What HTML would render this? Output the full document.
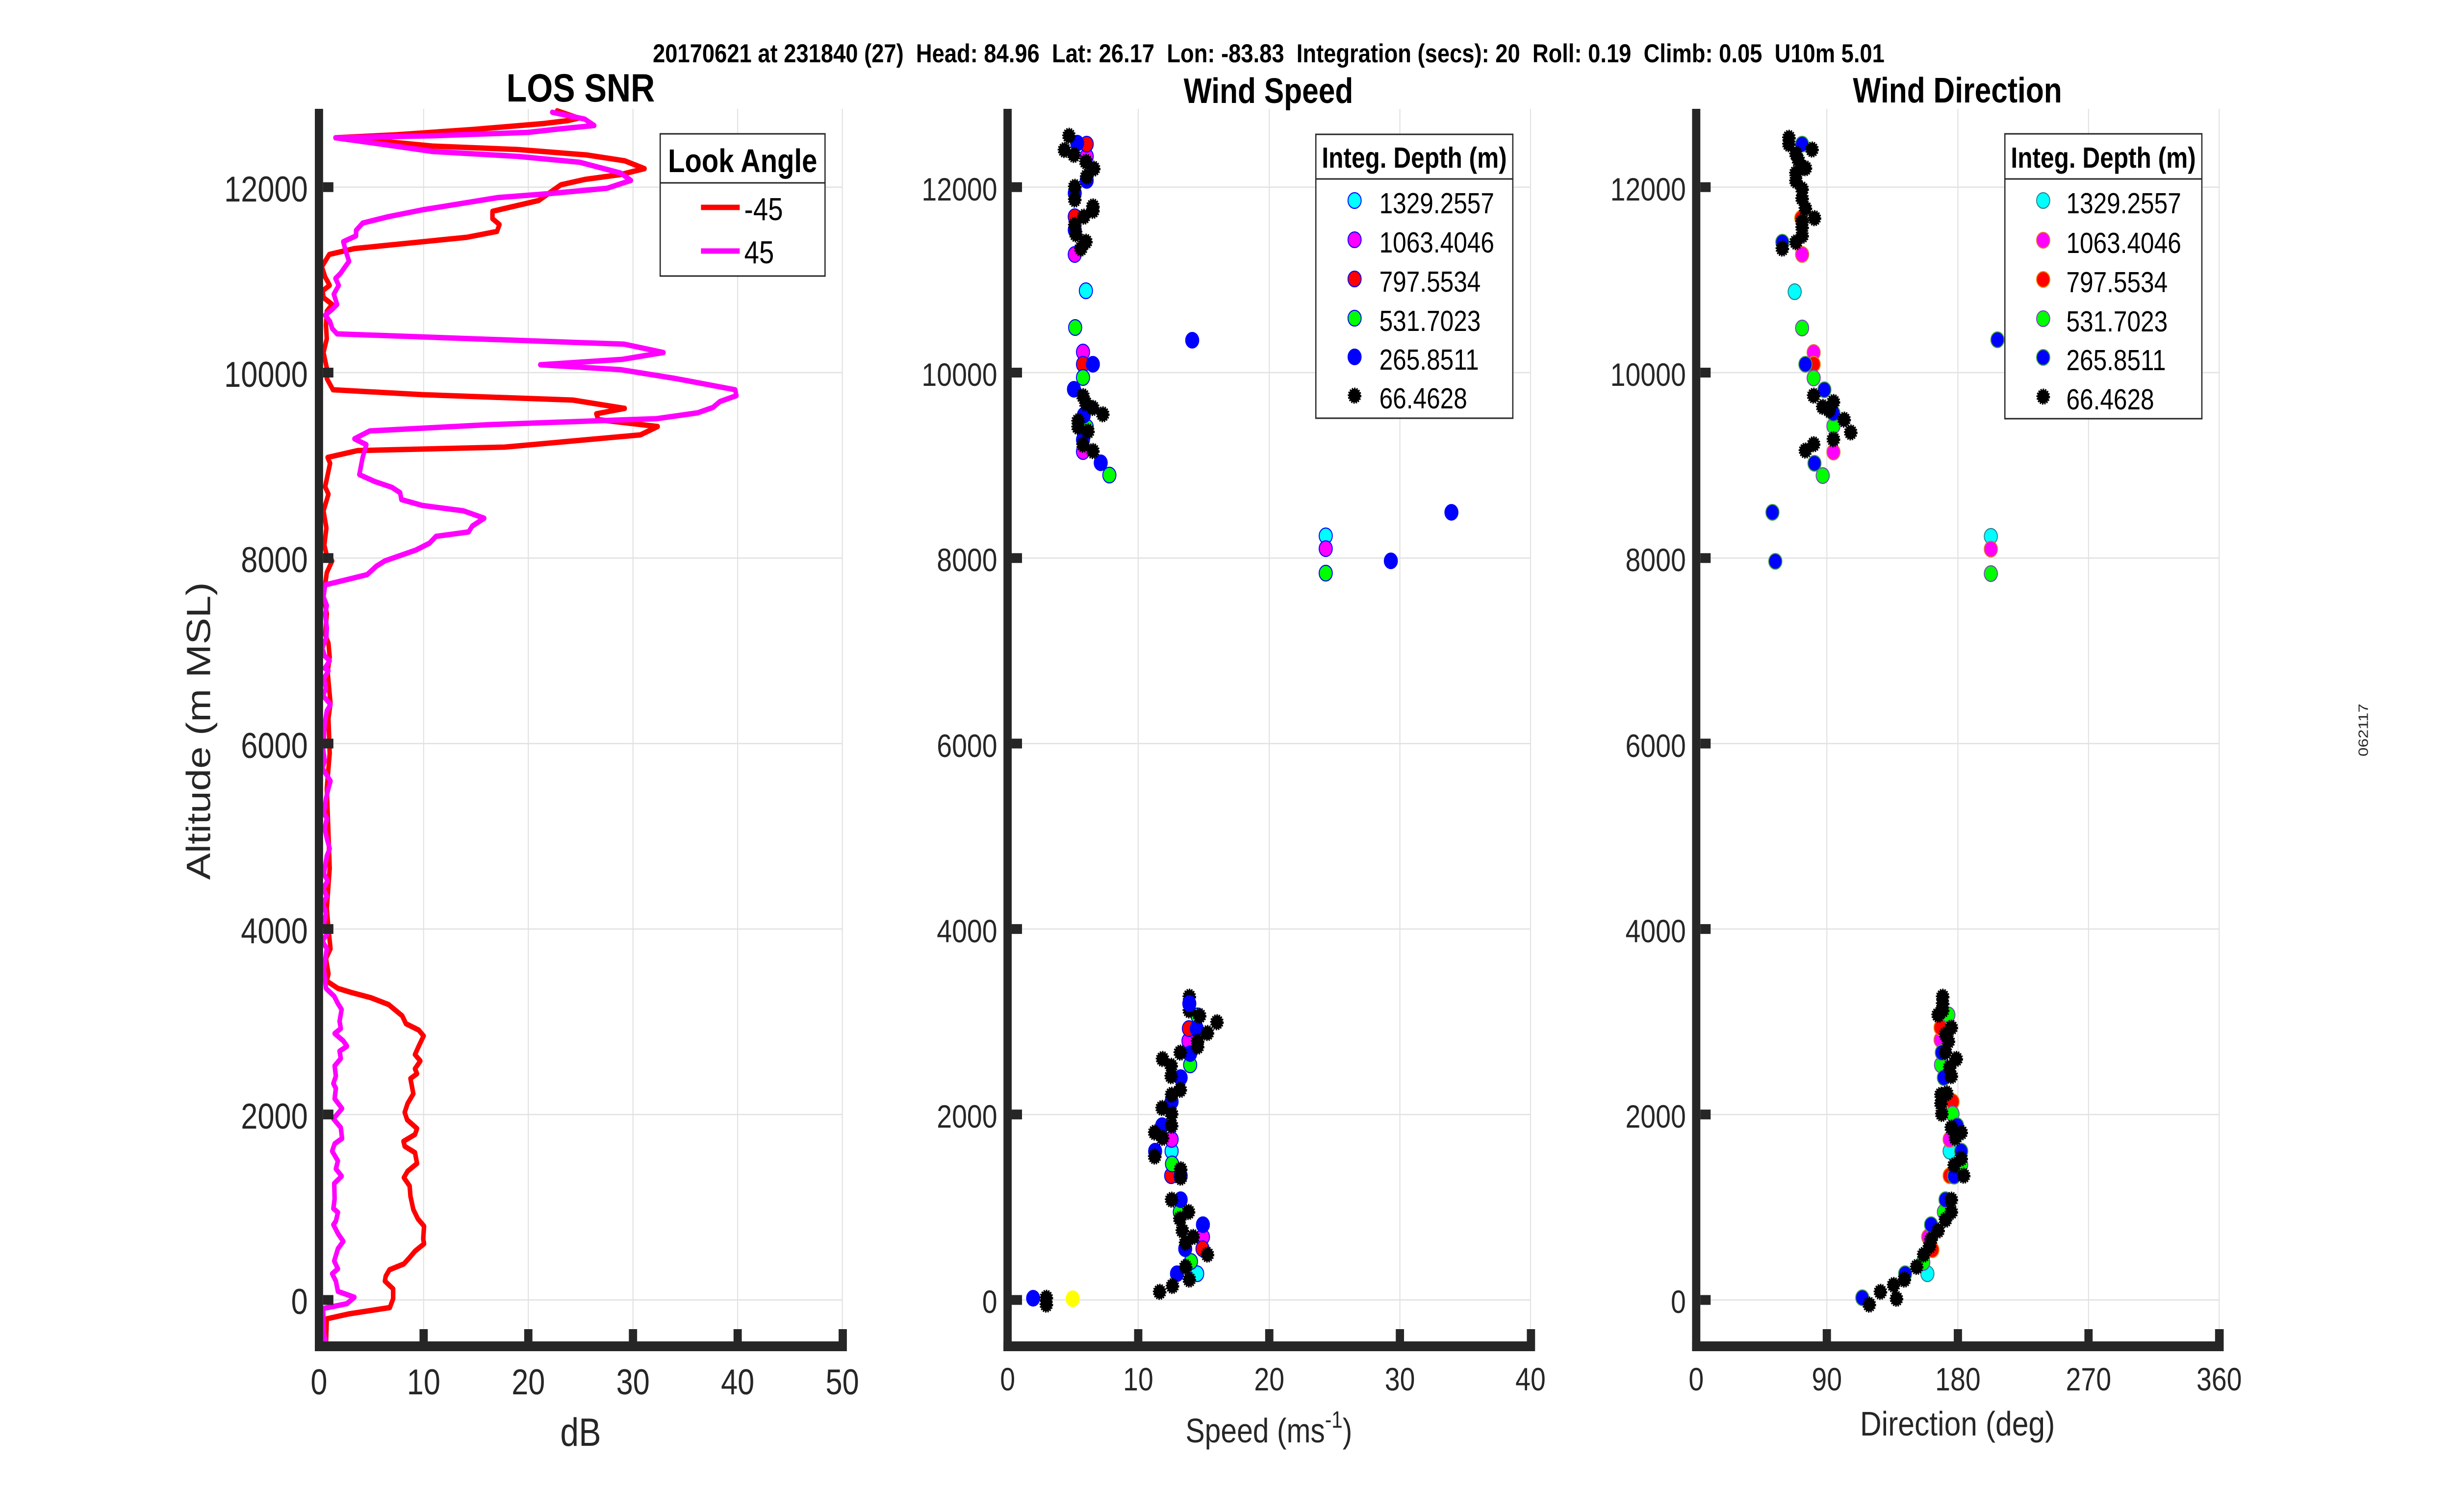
<!DOCTYPE html>
<html>
<head>
<meta charset="utf-8">
<style>
html,body{margin:0;padding:0;background:#fff;overflow:hidden;width:100%;height:100%;}
svg{display:block;width:100vw;height:100vh;}
text{font-family:"Liberation Sans",Arial,sans-serif;}
.tk{fill:#262626;}
.ax{fill:#262626;}
.gr{stroke:#e1e1e1;stroke-width:2.5;fill:none;}
.K{fill:#000;stroke:#000;stroke-width:5;stroke-dasharray:3.2 2.2;}
.C{fill:#00ffff;stroke:#0000ff;stroke-width:2.2;}
.M{fill:#ff00ff;stroke:#0000ff;stroke-width:2.2;}
.R{fill:#ff0000;stroke:#0000ff;stroke-width:2.2;}
.G{fill:#00ff00;stroke:#0000ff;stroke-width:2.2;}
.B{fill:#0000ff;stroke:#0000ff;stroke-width:2;}
.Y{fill:#ffff00;stroke:#ffff00;stroke-width:2;}
.C3{fill:#00ffff;stroke:#2a8090;stroke-width:2.2;}
.M3{fill:#ff00ff;stroke:#e07030;stroke-width:2.2;}
.R3{fill:#ff0000;stroke:#f08000;stroke-width:2.2;}
.G3{fill:#00ff00;stroke:#8040c0;stroke-width:2.2;}
.B3{fill:#0000ff;stroke:#40a040;stroke-width:2.2;}
</style>
</head>
<body>
<svg viewBox="0 0 5950 3084" preserveAspectRatio="none" xmlns="http://www.w3.org/2000/svg">
<rect width="5950" height="3084" fill="#fff"/>

<!-- Suptitle -->
<text x="1584" y="127" font-size="53" font-weight="bold" fill="#000" style="white-space:pre" textLength="2989" lengthAdjust="spacingAndGlyphs">20170621 at 231840 (27)  Head: 84.96  Lat: 26.17  Lon: -83.83  Integration (secs): 20  Roll: 0.19  Climb: 0.05  U10m 5.01</text>

<!-- ================= PANEL 1: LOS SNR ================= -->
<g>
<g class="gr">
<line x1="774" y1="2651.5" x2="2044" y2="2651.5"/>
<line x1="774" y1="2273.2" x2="2044" y2="2273.2"/>
<line x1="774" y1="1894.9" x2="2044" y2="1894.9"/>
<line x1="774" y1="1516.6" x2="2044" y2="1516.6"/>
<line x1="774" y1="1138.3" x2="2044" y2="1138.3"/>
<line x1="774" y1="760" x2="2044" y2="760"/>
<line x1="774" y1="381.7" x2="2044" y2="381.7"/>
<line x1="1028" y1="222" x2="1028" y2="2746"/>
<line x1="1282" y1="222" x2="1282" y2="2746"/>
<line x1="1536" y1="222" x2="1536" y2="2746"/>
<line x1="1790" y1="222" x2="1790" y2="2746"/>
<line x1="2044" y1="222" x2="2044" y2="2746"/>
</g>
<polyline fill="none" stroke="#ff0000" stroke-width="11" stroke-linejoin="round" stroke-linecap="round" points="1352,226 1404,241 1378,246 1319,252 1149,264 960,275 814,281 926,288 1050,298 1257,305 1423,316 1516,328 1564,344 1506,356 1419,366 1361,377 1307,409 1195,431 1195,446 1212,458 1206,472 1133,484 860,507 799,519 781,544 789,565 800,582 783,593 785,607 806,621 793,635 791,663 793,691 785,719 792,747 797,761 793,772 808,795 1025,805 1390,816 1516,833 1447,844 1452,856 1596,870 1554,887 1224,912 868,919 795,933 801,945 789,993 797,1008 785,1042 792,1077 787,1112 793,1133 806,1144 793,1168 785,1217 793,1252 789,1294 797,1312 800,1340 795,1370 802,1435 797,1465 800,1537 793,1608 797,1700 800,1771 793,1853 797,1894 802,1935 791,1955 797,1986 793,2001 820,2016 851,2024 900,2035 943,2049 976,2072 985,2088 1016,2101 1028,2113 1016,2134 1007,2151 1020,2164 1007,2180 1012,2190 996,2200 1003,2231 989,2251 982,2269 988,2284 1012,2302 1007,2314 979,2328 982,2338 1007,2351 1012,2373 989,2389 980,2402 994,2419 996,2440 1003,2467 1014,2486 1029,2501 1027,2527 1029,2537 1007,2552 994,2565 980,2578 945,2590 936,2603 934,2613 954,2629 954,2649 946,2667 846,2680 793,2690 791,2741"/>
<polyline fill="none" stroke="#ff00ff" stroke-width="11" stroke-linejoin="round" stroke-linecap="round" points="1340,229 1419,243 1442,256 1357,263 1282,270 1050,277 814,281 934,295 1050,309 1257,319 1407,331 1506,353 1531,368 1473,384 1332,395 1208,403 1025,428 942,442 880,455 864,470 864,481 833,493 839,512 847,533 835,547 826,558 814,568 822,582 810,600 818,621 806,631 789,643 801,656 806,670 818,681 1515,702 1610,719 1510,733 1311,744 1506,754 1639,772 1784,795 1787,807 1747,819 1730,831 1693,842 1593,854 1191,866 897,879 860,895 889,907 880,933 872,968 909,982 951,994 971,1005 974,1019 1025,1031 1125,1042 1175,1057 1146,1073 1137,1085 1058,1094 1042,1108 1009,1122 934,1144 913,1155 891,1172 843,1182 789,1193 785,1217 793,1235 789,1252 793,1280 792,1300 782,1322 788,1338 800,1348 788,1363 797,1368 786,1384 791,1404 784,1419 802,1437 793,1450 788,1476 784,1527 788,1552 782,1567 802,1593 797,1608 791,1629 786,1659 793,1669 788,1690 793,1710 800,1731 793,1746 786,1782 795,1797 784,1812 793,1828 784,1843 791,1863 786,1884 795,1904 782,1919 793,1935 786,1976 791,2016 811,2032 820,2047 829,2059 824,2083 827,2098 812,2108 833,2123 842,2134 824,2144 827,2159 812,2174 815,2195 809,2210 815,2220 812,2241 830,2261 809,2282 827,2300 830,2322 812,2333 806,2348 820,2368 815,2384 829,2399 811,2414 812,2445 809,2465 820,2473 815,2491 809,2498 820,2516 833,2532 820,2547 811,2572 820,2588 806,2598 815,2613 820,2634 860,2646 842,2659 784,2669 786,2720 791,2741"/>
<rect class="ax" x="764" y="222" width="20" height="2534"/>
<rect class="ax" x="764" y="2736" width="1291" height="20"/>
<g class="ax">
<rect x="784" y="2641.5" width="25" height="20"/>
<rect x="784" y="2263.2" width="25" height="20"/>
<rect x="784" y="1884.9" width="25" height="20"/>
<rect x="784" y="1506.6" width="25" height="20"/>
<rect x="784" y="1128.3" width="25" height="20"/>
<rect x="784" y="750" width="25" height="20"/>
<rect x="784" y="371.7" width="25" height="20"/>
<rect x="1018" y="2711" width="20" height="25"/>
<rect x="1272" y="2711" width="20" height="25"/>
<rect x="1526" y="2711" width="20" height="25"/>
<rect x="1780" y="2711" width="20" height="25"/>
<rect x="2035" y="2711" width="20" height="25"/>
</g>
<g class="tk" font-size="73" text-anchor="end">
<text x="747" y="2680">0</text>
<text x="747" y="2302">2000</text>
<text x="747" y="1924">4000</text>
<text x="747" y="1546">6000</text>
<text x="747" y="1167">8000</text>
<text x="747" y="789">10000</text>
<text x="747" y="411">12000</text>
</g>
<g class="tk" font-size="73" text-anchor="middle">
<text x="774" y="2844">0</text>
<text x="1028" y="2844">10</text>
<text x="1282" y="2844">20</text>
<text x="1536" y="2844">30</text>
<text x="1790" y="2844">40</text>
<text x="2044" y="2844">50</text>
</g>
<text class="tk" x="1409" y="2949" font-size="81" text-anchor="middle">dB</text>
<text class="tk" transform="translate(510,1491) rotate(-90)" font-size="82" text-anchor="middle" textLength="607" lengthAdjust="spacingAndGlyphs">Altitude (m MSL)</text>
<text x="1409" y="207" font-size="81" font-weight="bold" text-anchor="middle" fill="#000">LOS SNR</text>
<rect x="1602" y="273" width="400" height="290" fill="#fff" stroke="#262626" stroke-width="3"/>
<line x1="1602" y1="373" x2="2002" y2="373" stroke="#262626" stroke-width="3"/>
<text x="1802" y="351" font-size="67" font-weight="bold" text-anchor="middle" fill="#000">Look Angle</text>
<line x1="1701" y1="423" x2="1795" y2="423" stroke="#ff0000" stroke-width="11"/>
<line x1="1701" y1="512" x2="1795" y2="512" stroke="#ff00ff" stroke-width="11"/>
<text x="1806" y="449" font-size="65" fill="#000">-45</text>
<text x="1806" y="537" font-size="65" fill="#000">45</text>
</g>

<!-- ================= PANEL 2: Wind Speed ================= -->
<g>
<g class="gr">
<line x1="2445" y1="2651.5" x2="3714" y2="2651.5"/>
<line x1="2445" y1="2273.2" x2="3714" y2="2273.2"/>
<line x1="2445" y1="1894.9" x2="3714" y2="1894.9"/>
<line x1="2445" y1="1516.6" x2="3714" y2="1516.6"/>
<line x1="2445" y1="1138.3" x2="3714" y2="1138.3"/>
<line x1="2445" y1="760" x2="3714" y2="760"/>
<line x1="2445" y1="381.7" x2="3714" y2="381.7"/>
<line x1="2762" y1="222" x2="2762" y2="2746"/>
<line x1="3080" y1="222" x2="3080" y2="2746"/>
<line x1="3397" y1="222" x2="3397" y2="2746"/>
<line x1="3714" y1="222" x2="3714" y2="2746"/>
</g>
<g>
<circle class="C" cx="2635" cy="593" r="16"/>
<circle class="C" cx="3217" cy="1093" r="16"/>
<circle class="C" cx="2905" cy="2598" r="16"/>
<circle class="C" cx="2843" cy="2348" r="16"/>
<circle class="M" cx="2637" cy="319" r="16"/>
<circle class="M" cx="2608" cy="519" r="16"/>
<circle class="M" cx="2628" cy="718" r="16"/>
<circle class="M" cx="2628" cy="921" r="16"/>
<circle class="M" cx="3217" cy="1119" r="16"/>
<circle class="M" cx="2919" cy="2523" r="16"/>
<circle class="M" cx="2843" cy="2324" r="16"/>
<circle class="M" cx="2884" cy="2123" r="16"/>
<circle class="R" cx="2637" cy="294" r="16"/>
<circle class="R" cx="2608" cy="442" r="16"/>
<circle class="R" cx="2628" cy="743" r="16"/>
<circle class="R" cx="2918" cy="2547" r="16"/>
<circle class="R" cx="2842" cy="2398" r="16"/>
<circle class="R" cx="2885" cy="2098" r="16"/>
<circle class="G" cx="2609" cy="668" r="16"/>
<circle class="G" cx="2628" cy="770" r="16"/>
<circle class="G" cx="2637" cy="871" r="16"/>
<circle class="G" cx="2692" cy="969" r="16"/>
<circle class="G" cx="3217" cy="1169" r="16"/>
<circle class="G" cx="2890" cy="2573" r="16"/>
<circle class="G" cx="2863" cy="2472" r="16"/>
<circle class="G" cx="2844" cy="2374" r="16"/>
<circle class="G" cx="2888" cy="2172" r="16"/>
<circle class="G" cx="2906" cy="2072" r="16"/>
<circle class="B" cx="2614" cy="292" r="16"/>
<circle class="B" cx="2637" cy="368" r="16"/>
<circle class="B" cx="2608" cy="394" r="16"/>
<circle class="B" cx="2608" cy="469" r="16"/>
<circle class="B" cx="2893" cy="694" r="16"/>
<circle class="B" cx="2652" cy="743" r="16"/>
<circle class="B" cx="2606" cy="794" r="16"/>
<circle class="B" cx="2630" cy="847" r="16"/>
<circle class="B" cx="2628" cy="897" r="16"/>
<circle class="B" cx="2671" cy="944" r="16"/>
<circle class="B" cx="3375" cy="1144" r="16"/>
<circle class="B" cx="3522" cy="1045" r="16"/>
<circle class="B" cx="2507" cy="2648" r="16"/>
<circle class="B" cx="2856" cy="2598" r="16"/>
<circle class="B" cx="2876" cy="2547" r="16"/>
<circle class="B" cx="2919" cy="2498" r="16"/>
<circle class="B" cx="2865" cy="2447" r="16"/>
<circle class="B" cx="2865" cy="2398" r="16"/>
<circle class="B" cx="2803" cy="2348" r="16"/>
<circle class="B" cx="2820" cy="2296" r="16"/>
<circle class="B" cx="2843" cy="2247" r="16"/>
<circle class="B" cx="2865" cy="2198" r="16"/>
<circle class="B" cx="2888" cy="2149" r="16"/>
<circle class="B" cx="2904" cy="2098" r="16"/>
<circle class="Y" cx="2603" cy="2649" r="16"/>
</g>
<g class="K">
<circle cx="2594" cy="277" r="14"/><circle cx="2583" cy="306" r="14"/><circle cx="2606" cy="316" r="14"/>
<circle cx="2635" cy="330" r="14"/><circle cx="2654" cy="344" r="14"/><circle cx="2637" cy="360" r="14"/>
<circle cx="2608" cy="381" r="14"/><circle cx="2608" cy="407" r="14"/><circle cx="2652" cy="421" r="14"/>
<circle cx="2652" cy="430" r="14"/><circle cx="2630" cy="442" r="14"/><circle cx="2608" cy="459" r="14"/>
<circle cx="2611" cy="478" r="14"/><circle cx="2635" cy="493" r="14"/><circle cx="2623" cy="507" r="14"/>
<circle cx="2628" cy="808" r="14"/><circle cx="2635" cy="823" r="14"/><circle cx="2652" cy="832" r="14"/>
<circle cx="2676" cy="845" r="14"/><circle cx="2616" cy="859" r="14"/><circle cx="2616" cy="871" r="14"/>
<circle cx="2640" cy="880" r="14"/><circle cx="2628" cy="907" r="14"/><circle cx="2652" cy="920" r="14"/>
<circle cx="2539" cy="2647" r="14"/><circle cx="2539" cy="2661" r="14"/>
<circle cx="2814" cy="2635" r="14"/><circle cx="2845" cy="2623" r="14"/><circle cx="2886" cy="2610" r="14"/>
<circle cx="2877" cy="2584" r="14"/><circle cx="2877" cy="2535" r="14"/><circle cx="2895" cy="2523" r="14"/>
<circle cx="2930" cy="2559" r="14"/><circle cx="2869" cy="2510" r="14"/><circle cx="2863" cy="2486" r="14"/>
<circle cx="2884" cy="2472" r="14"/><circle cx="2843" cy="2447" r="14"/><circle cx="2865" cy="2385" r="14"/>
<circle cx="2865" cy="2402" r="14"/><circle cx="2802" cy="2359" r="14"/><circle cx="2821" cy="2321" r="14"/>
<circle cx="2802" cy="2310" r="14"/><circle cx="2843" cy="2296" r="14"/><circle cx="2843" cy="2272" r="14"/>
<circle cx="2820" cy="2260" r="14"/><circle cx="2843" cy="2233" r="14"/><circle cx="2864" cy="2223" r="14"/>
<circle cx="2842" cy="2195" r="14"/><circle cx="2842" cy="2174" r="14"/><circle cx="2821" cy="2160" r="14"/>
<circle cx="2864" cy="2147" r="14"/><circle cx="2906" cy="2124" r="14"/><circle cx="2906" cy="2135" r="14"/>
<circle cx="2930" cy="2107" r="14"/><circle cx="2953" cy="2085" r="14"/><circle cx="2911" cy="2072" r="14"/>
<circle cx="2886" cy="2033" r="14"/><circle cx="2886" cy="2061" r="14"/>
</g>
<circle class="B" cx="2886" cy="2047" r="16"/>
<rect class="ax" x="2435" y="222" width="20" height="2534"/>
<rect class="ax" x="2435" y="2736" width="1290" height="20"/>
<g class="ax">
<rect x="2455" y="2641.5" width="25" height="20"/>
<rect x="2455" y="2263.2" width="25" height="20"/>
<rect x="2455" y="1884.9" width="25" height="20"/>
<rect x="2455" y="1506.6" width="25" height="20"/>
<rect x="2455" y="1128.3" width="25" height="20"/>
<rect x="2455" y="750" width="25" height="20"/>
<rect x="2455" y="371.7" width="25" height="20"/>
<rect x="2752" y="2711" width="20" height="25"/>
<rect x="3070" y="2711" width="20" height="25"/>
<rect x="3387" y="2711" width="20" height="25"/>
<rect x="3705" y="2711" width="20" height="25"/>
</g>
<g class="tk" font-size="66" text-anchor="end">
<text x="2420" y="2678">0</text>
<text x="2420" y="2300">2000</text>
<text x="2420" y="1922">4000</text>
<text x="2420" y="1544">6000</text>
<text x="2420" y="1165">8000</text>
<text x="2420" y="787">10000</text>
<text x="2420" y="409">12000</text>
</g>
<g class="tk" font-size="66" text-anchor="middle">
<text x="2445" y="2836">0</text>
<text x="2762" y="2836">10</text>
<text x="3080" y="2836">20</text>
<text x="3397" y="2836">30</text>
<text x="3714" y="2836">40</text>
</g>
<text class="tk" x="3079" y="2942" font-size="70" text-anchor="middle">Speed (ms<tspan dy="-30" font-size="48">-1</tspan><tspan dy="30">)</tspan></text>
<text x="3078" y="210" font-size="72" font-weight="bold" text-anchor="middle" fill="#000">Wind Speed</text>
<rect x="3193" y="274" width="478" height="579" fill="#fff" stroke="#262626" stroke-width="3"/>
<line x1="3193" y1="365" x2="3671" y2="365" stroke="#262626" stroke-width="3"/>
<text x="3432" y="342" font-size="59" font-weight="bold" text-anchor="middle" fill="#000">Integ. Depth (m)</text>
<circle class="C" cx="3287" cy="409" r="16"/>
<circle class="M" cx="3287" cy="489" r="16"/>
<circle class="R" cx="3287" cy="569" r="16"/>
<circle class="G" cx="3287" cy="649" r="16"/>
<circle class="B" cx="3287" cy="728" r="16"/>
<circle class="K" cx="3287" cy="807" r="14"/>
<g font-size="59" fill="#000">
<text x="3347" y="435">1329.2557</text>
<text x="3347" y="515">1063.4046</text>
<text x="3347" y="595">797.5534</text>
<text x="3347" y="675">531.7023</text>
<text x="3347" y="754">265.8511</text>
<text x="3347" y="833">66.4628</text>
</g>
</g>

<!-- ================= PANEL 3: Wind Direction ================= -->
<g>
<g class="gr">
<line x1="4116" y1="2651.5" x2="5385" y2="2651.5"/>
<line x1="4116" y1="2273.2" x2="5385" y2="2273.2"/>
<line x1="4116" y1="1894.9" x2="5385" y2="1894.9"/>
<line x1="4116" y1="1516.6" x2="5385" y2="1516.6"/>
<line x1="4116" y1="1138.3" x2="5385" y2="1138.3"/>
<line x1="4116" y1="760" x2="5385" y2="760"/>
<line x1="4116" y1="381.7" x2="5385" y2="381.7"/>
<line x1="4433" y1="222" x2="4433" y2="2746"/>
<line x1="4751" y1="222" x2="4751" y2="2746"/>
<line x1="5068" y1="222" x2="5068" y2="2746"/>
<line x1="5385" y1="222" x2="5385" y2="2746"/>
</g>
<g>
<circle class="C3" cx="4355" cy="595" r="16"/>
<circle class="C3" cx="4831" cy="1094" r="16"/>
<circle class="C3" cx="4731" cy="2348" r="16"/>
<circle class="C3" cx="4677" cy="2598" r="16"/>
<circle class="M3" cx="4373" cy="519" r="16"/>
<circle class="M3" cx="4401" cy="719" r="16"/>
<circle class="M3" cx="4449" cy="922" r="16"/>
<circle class="M3" cx="4831" cy="1120" r="16"/>
<circle class="M3" cx="4709" cy="2121" r="16"/>
<circle class="M3" cx="4731" cy="2324" r="16"/>
<circle class="M3" cx="4679" cy="2523" r="16"/>
<circle class="R3" cx="4371" cy="445" r="16"/>
<circle class="R3" cx="4401" cy="743" r="16"/>
<circle class="R3" cx="4709" cy="2096" r="16"/>
<circle class="R3" cx="4738" cy="2247" r="16"/>
<circle class="R3" cx="4731" cy="2398" r="16"/>
<circle class="R3" cx="4689" cy="2549" r="16"/>
<circle class="G3" cx="4373" cy="669" r="16"/>
<circle class="G3" cx="4401" cy="771" r="16"/>
<circle class="G3" cx="4449" cy="869" r="16"/>
<circle class="G3" cx="4423" cy="970" r="16"/>
<circle class="G3" cx="4831" cy="1170" r="16"/>
<circle class="G3" cx="4728" cy="2070" r="16"/>
<circle class="G3" cx="4710" cy="2172" r="16"/>
<circle class="G3" cx="4738" cy="2272" r="16"/>
<circle class="G3" cx="4759" cy="2376" r="16"/>
<circle class="G3" cx="4717" cy="2472" r="16"/>
<circle class="G3" cx="4667" cy="2575" r="16"/>
<circle class="B3" cx="4373" cy="294" r="16"/>
<circle class="B3" cx="4325" cy="494" r="16"/>
<circle class="B3" cx="4381" cy="743" r="16"/>
<circle class="B3" cx="4427" cy="795" r="16"/>
<circle class="B3" cx="4449" cy="843" r="16"/>
<circle class="B3" cx="4403" cy="945" r="16"/>
<circle class="B3" cx="4301" cy="1045" r="16"/>
<circle class="B3" cx="4308" cy="1145" r="16"/>
<circle class="B3" cx="4847" cy="693" r="16"/>
<circle class="B3" cx="4712" cy="2147" r="16"/>
<circle class="B3" cx="4717" cy="2198" r="16"/>
<circle class="B3" cx="4749" cy="2296" r="16"/>
<circle class="B3" cx="4759" cy="2348" r="16"/>
<circle class="B3" cx="4742" cy="2399" r="16"/>
<circle class="B3" cx="4721" cy="2447" r="16"/>
<circle class="B3" cx="4686" cy="2498" r="16"/>
<circle class="B3" cx="4623" cy="2598" r="16"/>
<circle class="B3" cx="4519" cy="2647" r="16"/>
</g>
<g class="K">
<circle cx="4341" cy="281" r="14"/><circle cx="4341" cy="294" r="14"/><circle cx="4397" cy="305" r="14"/>
<circle cx="4358" cy="314" r="14"/><circle cx="4364" cy="327" r="14"/><circle cx="4371" cy="343" r="14"/>
<circle cx="4358" cy="353" r="14"/><circle cx="4358" cy="369" r="14"/><circle cx="4381" cy="343" r="14"/>
<circle cx="4373" cy="386" r="14"/><circle cx="4373" cy="405" r="14"/><circle cx="4381" cy="425" r="14"/>
<circle cx="4373" cy="452" r="14"/><circle cx="4373" cy="464" r="14"/><circle cx="4373" cy="481" r="14"/>
<circle cx="4403" cy="445" r="14"/><circle cx="4358" cy="494" r="14"/><circle cx="4325" cy="507" r="14"/>
<circle cx="4401" cy="807" r="14"/><circle cx="4423" cy="830" r="14"/><circle cx="4439" cy="837" r="14"/>
<circle cx="4449" cy="820" r="14"/><circle cx="4475" cy="856" r="14"/><circle cx="4491" cy="882" r="14"/>
<circle cx="4449" cy="896" r="14"/><circle cx="4401" cy="906" r="14"/><circle cx="4381" cy="919" r="14"/>
<circle cx="4714" cy="2033" r="14"/><circle cx="4714" cy="2047" r="14"/><circle cx="4714" cy="2061" r="14"/>
<circle cx="4703" cy="2070" r="14"/><circle cx="4735" cy="2096" r="14"/><circle cx="4721" cy="2110" r="14"/>
<circle cx="4728" cy="2124" r="14"/><circle cx="4721" cy="2146" r="14"/><circle cx="4747" cy="2160" r="14"/>
<circle cx="4731" cy="2177" r="14"/><circle cx="4735" cy="2195" r="14"/><circle cx="4710" cy="2233" r="14"/>
<circle cx="4710" cy="2251" r="14"/><circle cx="4724" cy="2230" r="14"/><circle cx="4712" cy="2272" r="14"/>
<circle cx="4735" cy="2300" r="14"/><circle cx="4759" cy="2310" r="14"/><circle cx="4745" cy="2321" r="14"/>
<circle cx="4759" cy="2363" r="14"/><circle cx="4742" cy="2377" r="14"/><circle cx="4765" cy="2398" r="14"/>
<circle cx="4735" cy="2447" r="14"/><circle cx="4735" cy="2472" r="14"/><circle cx="4721" cy="2488" r="14"/>
<circle cx="4703" cy="2510" r="14"/><circle cx="4686" cy="2528" r="14"/><circle cx="4682" cy="2542" r="14"/>
<circle cx="4668" cy="2559" r="14"/><circle cx="4651" cy="2584" r="14"/><circle cx="4621" cy="2610" r="14"/>
<circle cx="4595" cy="2621" r="14"/><circle cx="4563" cy="2635" r="14"/><circle cx="4602" cy="2649" r="14"/>
<circle cx="4536" cy="2661" r="14"/>
</g>
<rect class="ax" x="4106" y="222" width="20" height="2534"/>
<rect class="ax" x="4106" y="2736" width="1290" height="20"/>
<g class="ax">
<rect x="4126" y="2641.5" width="25" height="20"/>
<rect x="4126" y="2263.2" width="25" height="20"/>
<rect x="4126" y="1884.9" width="25" height="20"/>
<rect x="4126" y="1506.6" width="25" height="20"/>
<rect x="4126" y="1128.3" width="25" height="20"/>
<rect x="4126" y="750" width="25" height="20"/>
<rect x="4126" y="371.7" width="25" height="20"/>
<rect x="4423" y="2711" width="20" height="25"/>
<rect x="4741" y="2711" width="20" height="25"/>
<rect x="5058" y="2711" width="20" height="25"/>
<rect x="5375" y="2711" width="21" height="25"/>
</g>
<g class="tk" font-size="66" text-anchor="end">
<text x="4091" y="2678">0</text>
<text x="4091" y="2300">2000</text>
<text x="4091" y="1922">4000</text>
<text x="4091" y="1544">6000</text>
<text x="4091" y="1165">8000</text>
<text x="4091" y="787">10000</text>
<text x="4091" y="409">12000</text>
</g>
<g class="tk" font-size="66" text-anchor="middle">
<text x="4116" y="2836">0</text>
<text x="4433" y="2836">90</text>
<text x="4751" y="2836">180</text>
<text x="5068" y="2836">270</text>
<text x="5385" y="2836">360</text>
</g>
<text class="tk" x="4750" y="2928" font-size="70" text-anchor="middle" textLength="473" lengthAdjust="spacingAndGlyphs">Direction (deg)</text>
<text x="4750" y="209" font-size="72" font-weight="bold" text-anchor="middle" fill="#000">Wind Direction</text>
<rect x="4865" y="273" width="478" height="581" fill="#fff" stroke="#262626" stroke-width="3"/>
<line x1="4865" y1="365" x2="5343" y2="365" stroke="#262626" stroke-width="3"/>
<text x="5104" y="342" font-size="59" font-weight="bold" text-anchor="middle" fill="#000">Integ. Depth (m)</text>
<circle class="C3" cx="4958" cy="409" r="16"/>
<circle class="M3" cx="4958" cy="490" r="16"/>
<circle class="R3" cx="4958" cy="570" r="16"/>
<circle class="G3" cx="4958" cy="650" r="16"/>
<circle class="B3" cx="4958" cy="729" r="16"/>
<circle class="K" cx="4958" cy="809" r="14"/>
<g font-size="59" fill="#000">
<text x="5014" y="435">1329.2557</text>
<text x="5014" y="516">1063.4046</text>
<text x="5014" y="596">797.5534</text>
<text x="5014" y="676">531.7023</text>
<text x="5014" y="755">265.8511</text>
<text x="5014" y="835">66.4628</text>
</g>
</g>

<text transform="translate(5746,1489) rotate(-90)" font-size="33" text-anchor="middle" fill="#262626">062117</text>
</svg>
</body>
</html>
